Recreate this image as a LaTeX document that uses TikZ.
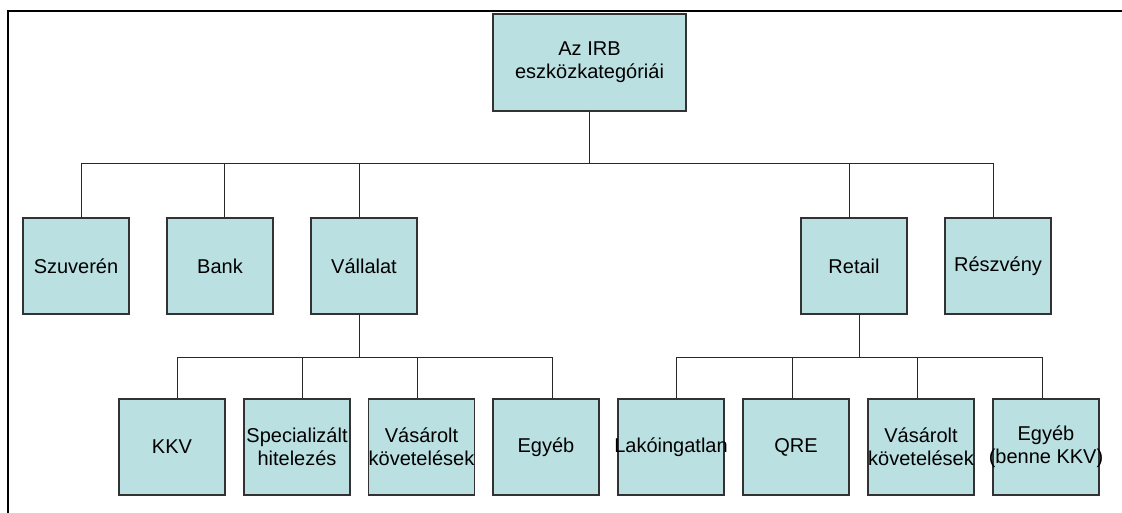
\documentclass[tikz,border=0pt]{standalone}
\usepackage{fontspec}
\setmainfont{Liberation Sans}
\definecolor{boxfill}{RGB}{186,224,226}
\definecolor{boxline}{RGB}{50,50,50}
\definecolor{wirec}{RGB}{40,40,40}
\tikzset{
  box/.style={draw=boxline, fill=boxfill, line width=1.2pt, minimum width=106pt, minimum height=96pt, inner sep=0pt},
  lbl/.style={font=\fontsize{20}{23}\selectfont, align=center, text=black, inner sep=0pt},
  wire/.style={draw=wirec, line width=1pt},
  frame/.style={draw=black, line width=2pt}
}
\begin{document}
\begin{tikzpicture}[x=1pt,y=-1pt]
\useasboundingbox (0,0) rectangle (1122,513);
\draw[frame] (8,514) -- (8,11) -- (1123,11);

% top
\node[box, minimum width=193pt, minimum height=97pt, label={[lbl]center:Az IRB\\eszközkategóriái}] (top) at (589.5,62.5) {};

% level 2
\node[box, label={[lbl]center:Szuverén}] (szu) at (76,266) {};
\node[box, label={[lbl]center:Bank}] (bank) at (220,266) {};
\node[box, label={[lbl]center:Vállalat}] (vall) at (364,266) {};
\node[box, label={[lbl]center:Retail}] (ret) at (854,266) {};
\node[box, label={[lbl]center:Részvény}] (resz) at (998,266) {};

% level 3 left
\node[box, label={[lbl]center:KKV}] (kkv) at (172,447) {};
\node[box, label={[lbl]center:Specializált\\hitelezés}] (spec) at (297,447) {};
\node[box, label={[lbl]center:Vásárolt\\követelések}] (vasl) at (421.5,447) {};
\node[box, label={[lbl]center:Egyéb}] (egyl) at (546,447) {};

% level 3 right
\node[box, label={[lbl]center:Lakóingatlan}] (lako) at (671,447) {};
\node[box, label={[lbl]center:QRE}] (qre) at (796,447) {};
\node[box, label={[lbl]center:Vásárolt\\követelések}] (vasr) at (921,447) {};
\node[box, label={[lbl]center:Egyéb\\(benne KKV)}] (egyr) at (1046,447) {};

% buses
\coordinate (b2) at (589.5,164);
\coordinate (b3l) at (359,357);
\coordinate (b3r) at (859,357);

\draw[wire] (top.south) -- (b2);
\draw[wire] ([xshift=5pt]szu.north) |- (b2);
\draw[wire] ([xshift=4pt]bank.north) |- (b2);
\draw[wire] ([xshift=-5pt]vall.north) |- (b2);
\draw[wire] ([xshift=-5pt]ret.north) |- (b2);
\draw[wire] ([xshift=-5pt]resz.north) |- (b2);

\draw[wire] ([xshift=-5pt]vall.south) -- (b3l);
\draw[wire] ([xshift=5pt]kkv.north) |- (b3l);
\draw[wire] ([xshift=5pt]spec.north) |- (b3l);
\draw[wire] ([xshift=-4.5pt]vasl.north) |- (b3l);
\draw[wire] ([xshift=6pt]egyl.north) |- (b3l);

\draw[wire] ([xshift=5pt]ret.south) -- (b3r);
\draw[wire] ([xshift=5pt]lako.north) |- (b3r);
\draw[wire] ([xshift=-4pt]qre.north) |- (b3r);
\draw[wire] ([xshift=-4pt]vasr.north) |- (b3r);
\draw[wire] ([xshift=-4pt]egyr.north) |- (b3r);
\end{tikzpicture}
\end{document}
